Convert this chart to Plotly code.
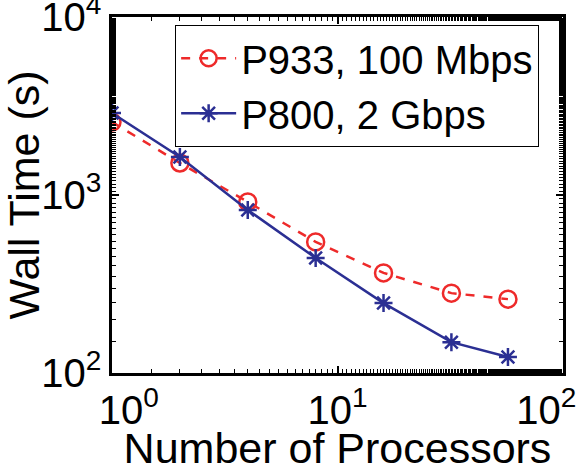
import plotly.graph_objects as go

processors = [1, 2, 4, 8, 16, 32, 57]
p933_time = [2570, 1513, 914, 545, 365, 281, 260]
p800_time = [2890, 1635, 824, 443, 247, 149, 123]
series_names = ["P933, 100 Mbps", "P800, 2 Gbps"]
x_ticks = [1, 10, 100]
x_tick_labels = ["10<sup>0</sup>", "10<sup>1</sup>", "10<sup>2</sup>"]
y_ticks = [100, 1000, 10000]
y_tick_labels = ["10<sup>2</sup>", "10<sup>3</sup>", "10<sup>4</sup>"]

FONT = "Liberation Sans, Arial, sans-serif"
NB = "\u00a0"
# pad end labels so they sit inside the figure like the reference
x_tick_text = [NB * 3 + x_tick_labels[0], x_tick_labels[1], x_tick_labels[2] + NB * 3]

fig = go.Figure()
fig.add_trace(go.Scatter(
    x=processors, y=p933_time, name=series_names[0], mode="lines+markers",
    line=dict(color="#EE2A2A", width=2.5, dash="dash"),
    marker=dict(symbol="circle-open", size=17, color="#EE2A2A", line=dict(width=2.5)),
))
fig.add_trace(go.Scatter(
    x=processors, y=p800_time, name=series_names[1], mode="lines+markers",
    line=dict(color="#2B2F93", width=2.5),
    marker=dict(symbol="asterisk-open", size=15, color="#2B2F93", line=dict(width=2.5)),
))

axis_common = dict(
    type="log", showgrid=False, zeroline=False, showline=True, linecolor="black",
    linewidth=2.5, mirror="allticks", ticks="inside", ticklen=7, tickwidth=1.5,
    tickcolor="black", tickfont=dict(family=FONT, size=40, color="black"),
    ticklabeloverflow="allow",
    minor=dict(ticks="inside", ticklen=4, tickwidth=1, tickcolor="black", showgrid=False),
)

fig.update_xaxes(
    **axis_common, range=[0, 2], tickvals=x_ticks, ticktext=x_tick_text,
    title=dict(text="Number of Processors", font=dict(family=FONT, size=43, color="black"), standoff=0),
)
fig.update_yaxes(
    **axis_common, range=[2, 4], tickvals=y_ticks, ticktext=y_tick_labels,
    title=dict(text="Wall Time (s)", font=dict(family=FONT, size=43, color="black"), standoff=0),
)

fig.update_layout(
    width=576, height=472, paper_bgcolor="white", plot_bgcolor="white",
    margin=dict(l=112, r=13, t=17, b=99, autoexpand=False),
    font=dict(family=FONT, color="black"),
    legend=dict(
        x=0.14, y=0.978, xanchor="left", yanchor="top", bgcolor="white",
        bordercolor="black", borderwidth=1, font=dict(family=FONT, size=40, color="black"),
        tracegroupgap=0, itemwidth=55,
    ),
)

fig.write_html("out.html")
